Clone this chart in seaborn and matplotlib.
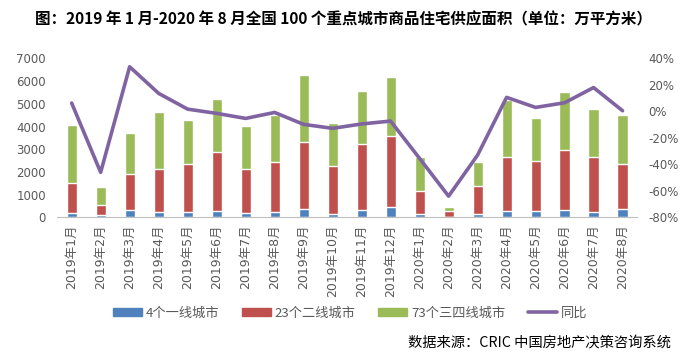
import numpy as np
import pandas as pd
import matplotlib
matplotlib.use('Agg')
import matplotlib.pyplot as plt
from matplotlib.patches import Patch
from matplotlib.lines import Line2D
import seaborn as sns

months = ['2019年1月', '2019年2月', '2019年3月', '2019年4月', '2019年5月', '2019年6月',
          '2019年7月', '2019年8月', '2019年9月', '2019年10月', '2019年11月', '2019年12月',
          '2020年1月', '2020年2月', '2020年3月', '2020年4月', '2020年5月', '2020年6月',
          '2020年7月', '2020年8月']
tier1 = [176, 117, 323, 235, 235, 264, 191, 235, 352, 161, 323, 440,
         161, 20, 161, 279, 279, 338, 250, 367]
tier2 = [1336, 426, 1585, 1893, 2113, 2612, 1937, 2201, 2964, 2099, 2905, 3141,
         998, 259, 1233, 2392, 2216, 2641, 2421, 1996]
tier34 = [2553, 792, 1805, 2509, 1937, 2334, 1893, 2070, 2950, 1893, 2334, 2597,
          1497, 176, 1042, 2495, 1893, 2553, 2098, 2142]
yoy = [6.3, -46, 33.7, 13.6, 1.7, -1.5, -5.3, -0.8, -9.8, -12.8, -9.5, -7.3,
       -35.5, -64, -33, 10.6, 3, 6.5, 18, 0.5]

s1 = ['4个一线城市', '23个二线城市', '73个三四线城市', '同比']
c_blue, c_red, c_green, c_purple = '#4F81BD', '#C0504D', '#9BBB59', '#8064A2'
gray = '#595959'

sns.set_style('white')
plt.rcParams['font.family'] = ['DejaVu Sans', 'Noto Sans CJK SC']
cjk = ['Noto Sans CJK SC', 'DejaVu Sans']

df = pd.DataFrame({'month': months, 't1': tier1, 't2': tier2, 't34': tier34, 'yoy': yoy})
df['top2'] = df['t1'] + df['t2']
df['top3'] = df['top2'] + df['t34']

fig = plt.figure(figsize=(6.97, 3.54), dpi=100)
ax = fig.add_axes([0.082, 0.386, 0.832, 0.449])

sns.barplot(data=df, x='month', y='top3', color=c_green, width=0.35, saturation=1, ax=ax)
sns.barplot(data=df, x='month', y='top2', color=c_red, width=0.35, saturation=1, ax=ax)
sns.barplot(data=df, x='month', y='t1', color=c_blue, width=0.35, saturation=1, ax=ax)

ax.set_ylim(0, 7000)
ax.set_yticks(range(0, 7001, 1000))
ax.set_xlim(-0.5, len(months) - 0.5)
ax.set_xlabel('')
ax.set_ylabel('')
for sp in ['top', 'left', 'right']:
    ax.spines[sp].set_visible(False)
ax.spines['bottom'].set_color('#BFBFBF')
ax.tick_params(axis='y', length=0, labelsize=8.5, labelcolor=gray, pad=8)
ax.set_xticks(np.arange(len(months)))
ax.set_xticklabels(months, rotation=90, fontsize=9, color=gray)
ax.tick_params(axis='x', length=0, pad=5)
ax.set_xticks(np.arange(-0.5, len(months)), minor=True)
ax.tick_params(axis='x', which='minor', length=4, color='#BFBFBF')

ax2 = ax.twinx()
sns.lineplot(x=np.arange(len(months)), y=df['yoy'], color=c_purple, linewidth=2.6, ax=ax2)
ax2.set_ylim(-80, 40)
ax2.set_yticks(range(-80, 41, 20))
ax2.set_yticklabels([f'{v}%' for v in range(-80, 41, 20)])
ax2.set_ylabel('')
for sp in ['top', 'left', 'right', 'bottom']:
    ax2.spines[sp].set_visible(False)
ax2.tick_params(axis='y', length=0, labelsize=8.5, labelcolor=gray, pad=8)

handles = [Patch(color=c_blue), Patch(color=c_red), Patch(color=c_green),
           Line2D([0], [0], color=c_purple, linewidth=2.6)]
fig.legend(handles, s1, loc='center', bbox_to_anchor=(0.502, 0.115), ncol=4, frameon=False,
           prop={'family': cjk, 'size': 9.5}, labelcolor=gray, handlelength=2.2,
           handleheight=0.6, columnspacing=1.7, handletextpad=0.3)

fig.text(0.05, 0.945, '图：2019 年 1 月-2020 年 8 月全国 100 个重点城市商品住宅供应面积（单位：万平方米）',
         fontsize=11.2, fontweight='bold', ha='left', va='center', color='black',
         family=cjk)
fig.text(0.962, 0.03, '数据来源：CRIC 中国房地产决策咨询系统', fontsize=10.3, ha='right',
         va='center', color='black', family=cjk)

fig.savefig('out.png', dpi=100)
